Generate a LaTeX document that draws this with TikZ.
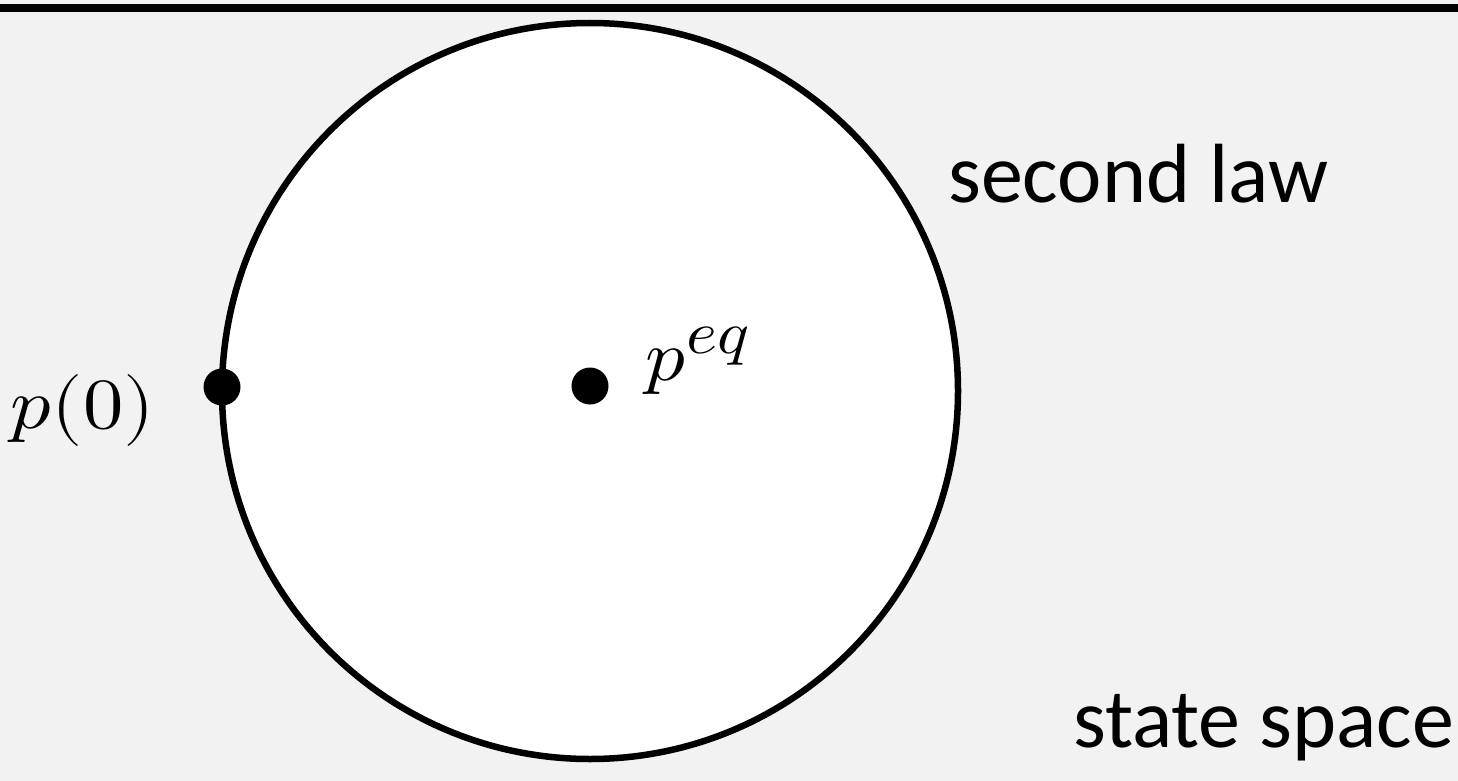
\documentclass[tikz,border=0pt]{standalone}
\usepackage{fontspec}
\usepackage{unicode-math}
\setmathfont{Latin Modern Math}
\newfontfamily\calibri{Carlito}
\definecolor{bggrey}{HTML}{F2F2F2}
\tikzset{
  ring/.style={circle, draw=black, line width=6.5pt, fill=white, minimum size=736pt, inner sep=0pt},
  bigdot/.style={circle, fill=black, minimum size=37pt, inner sep=0pt},
  mathlabel/.style={anchor=base west, inner sep=0pt, font=\fontsize{72}{80}\selectfont},
  wordlabel/.style={anchor=base west, inner sep=0pt, font=\calibri\fontsize{84}{92}\selectfont}
}
\begin{document}
\begin{tikzpicture}[x=1pt,y=-1pt]
\useasboundingbox (0,0) rectangle (1458,781);
\fill[bggrey] (0,0) rectangle (1458,781);
\fill[black] (0,4.5) rectangle (1458,12.5);
\node[ring] (ring) at (590,391) {};
\node[bigdot] (p0dot) at (222,387) {};
\node[bigdot] (peqdot) at (590,386) {};
\node[mathlabel] (p0) at (10,428) {\scalebox{1.12}[1]{$p(0)$}};
\node[mathlabel] (peq) at (645,380) {\scalebox{1.1}[1]{$p^{\scalebox{1.2}{$\scriptstyle eq$}}$}};
\node[wordlabel] (law) at (948,202) {second law};
\node[wordlabel] (space) at (1073,747) {state space};
\end{tikzpicture}
\end{document}
